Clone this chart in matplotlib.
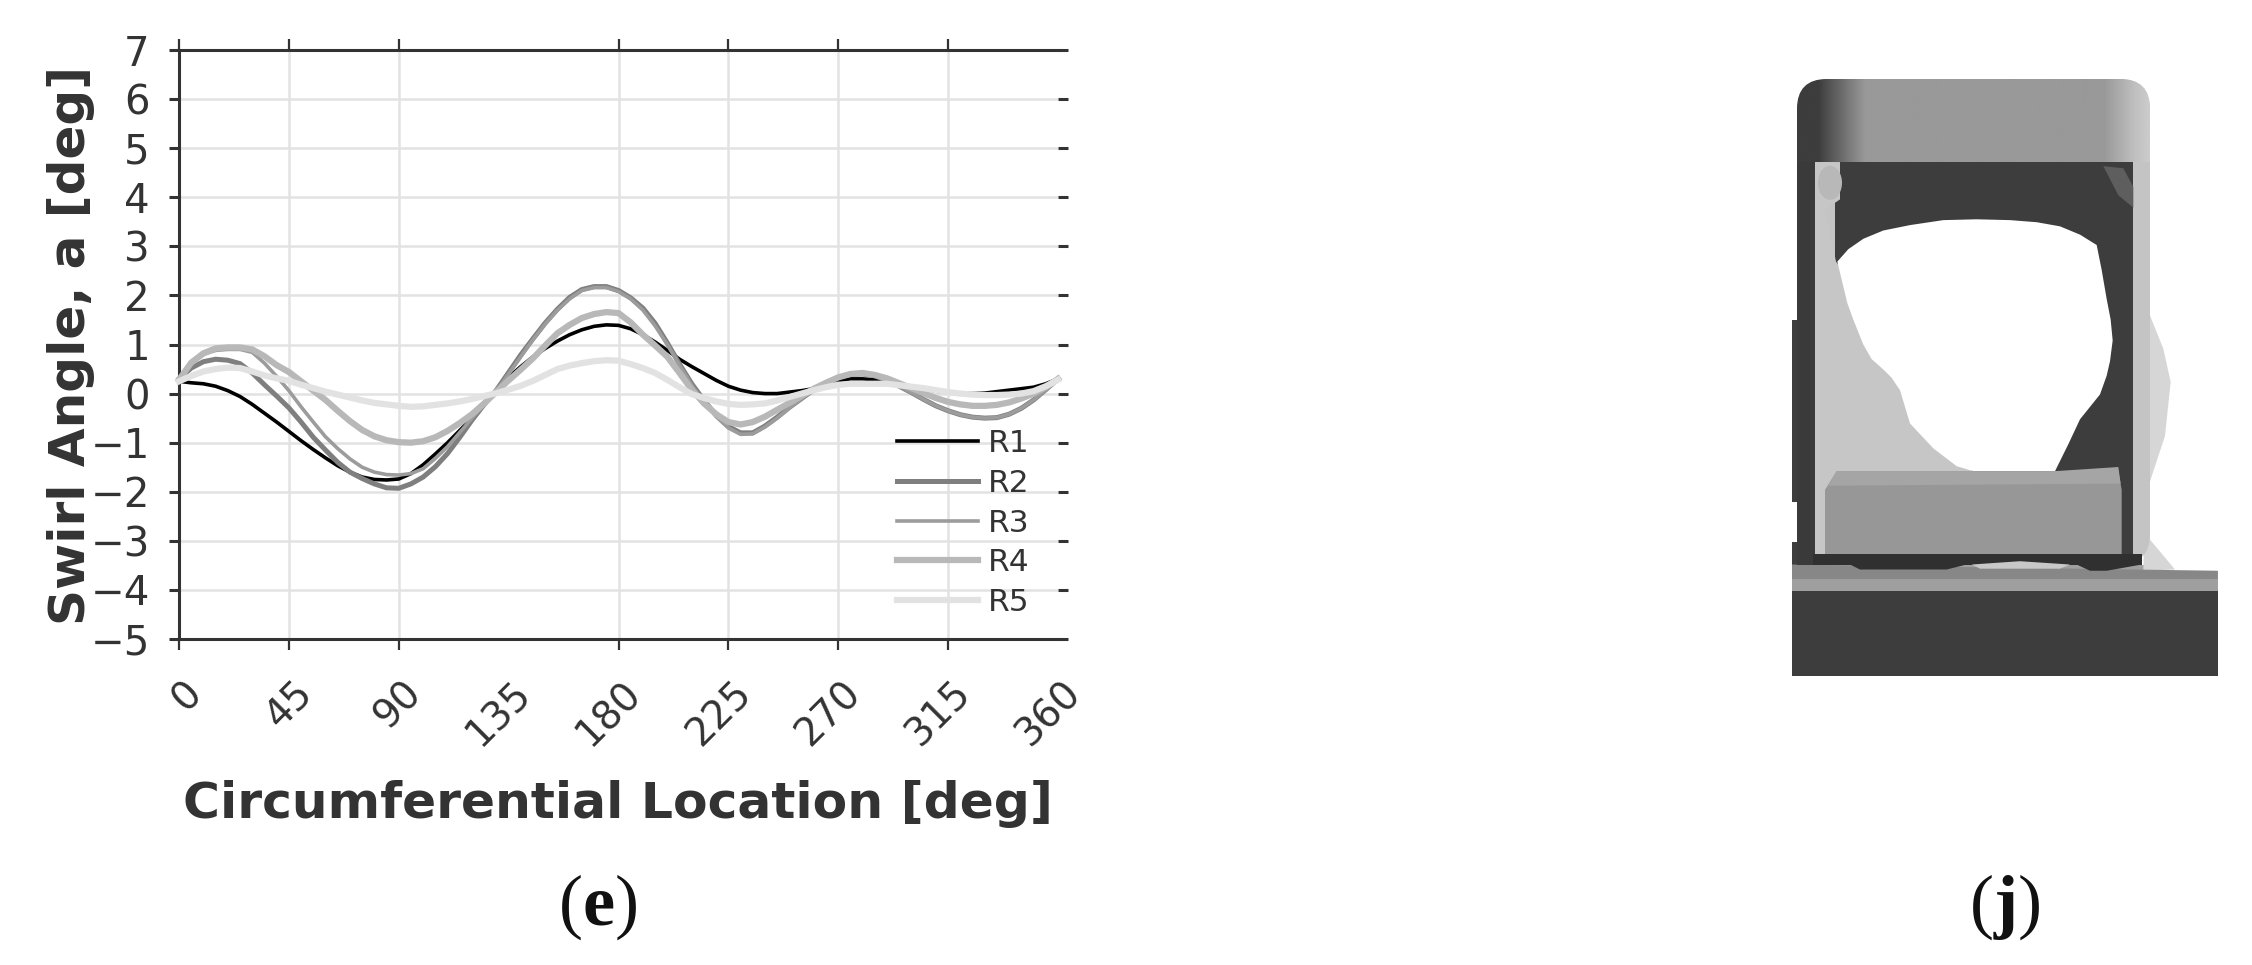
import numpy as np
import matplotlib; matplotlib.use("Agg"); import matplotlib.pyplot as plt
from matplotlib.patches import Polygon, FancyBboxPatch, Ellipse
from matplotlib.transforms import ScaledTranslation

W, H = 2252, 965

x_ticks = [0, 45, 90, 135, 180, 225, 270, 315, 360]
y_ticks = [-5, -4, -3, -2, -1, 0, 1, 2, 3, 4, 5, 6, 7]

deg = np.arange(0, 365, 5)
r1 = [0.25, 0.22, 0.2, 0.15, 0.06, -0.06, -0.22, -0.4, -0.58, -0.77, -0.96, -1.14, -1.31, -1.47, -1.6, -1.7, -1.75, -1.76, -1.74,
      -1.63, -1.45, -1.23, -1.0, -0.75, -0.5, -0.22, 0.07, 0.33, 0.55, 0.75, 0.92, 1.07, 1.2, 1.3, 1.37, 1.4, 1.39,
      1.32, 1.2, 1.05, 0.88, 0.7, 0.55, 0.41, 0.27, 0.15, 0.07, 0.02, 0.0, 0.0, 0.03, 0.06, 0.1, 0.18, 0.25,
      0.3, 0.3, 0.28, 0.24, 0.2, 0.15, 0.1, 0.05, 0.02, 0.0, 0.0, 0.01, 0.04, 0.07, 0.1, 0.13, 0.2, 0.3]
r2 = [0.3, 0.52, 0.65, 0.7, 0.68, 0.61, 0.42, 0.18, -0.05, -0.29, -0.58, -0.89, -1.15, -1.4, -1.6, -1.73, -1.84, -1.92, -1.93,
      -1.84, -1.7, -1.49, -1.22, -0.89, -0.54, -0.22, 0.07, 0.43, 0.79, 1.12, 1.44, 1.72, 1.96, 2.12, 2.18, 2.18, 2.1,
      1.95, 1.74, 1.43, 1.03, 0.6, 0.2, -0.14, -0.44, -0.67, -0.8, -0.8, -0.66, -0.48, -0.28, -0.1, 0.08, 0.22, 0.33,
      0.39, 0.4, 0.36, 0.27, 0.15, 0.02, -0.12, -0.25, -0.35, -0.43, -0.48, -0.5, -0.49, -0.42, -0.3, -0.13, 0.08, 0.3]
r3 = [0.28, 0.6, 0.8, 0.88, 0.9, 0.9, 0.84, 0.62, 0.35, 0.06, -0.27, -0.58, -0.88, -1.12, -1.33, -1.5, -1.6, -1.65, -1.66,
      -1.63, -1.53, -1.32, -1.08, -0.79, -0.5, -0.22, 0.06, 0.4, 0.75, 1.1, 1.42, 1.7, 1.93, 2.1, 2.16, 2.16, 2.08,
      1.93, 1.7, 1.38, 1.0, 0.58, 0.17, -0.17, -0.47, -0.7, -0.83, -0.82, -0.68, -0.5, -0.29, -0.1, 0.08, 0.22, 0.33,
      0.4, 0.42, 0.37, 0.27, 0.15, 0.02, -0.12, -0.25, -0.35, -0.43, -0.48, -0.5, -0.49, -0.42, -0.3, -0.13, 0.08, 0.3]
r4 = [0.28, 0.63, 0.82, 0.92, 0.94, 0.94, 0.9, 0.76, 0.58, 0.44, 0.25, 0.06, -0.13, -0.35, -0.56, -0.74, -0.87, -0.95, -0.99,
      -1.0, -0.97, -0.89, -0.76, -0.6, -0.42, -0.2, 0.04, 0.27, 0.49, 0.72, 0.98, 1.23, 1.4, 1.54, 1.62, 1.66, 1.64,
      1.45, 1.2, 0.98, 0.75, 0.42, 0.08, -0.2, -0.42, -0.58, -0.63, -0.58, -0.47, -0.33, -0.19, -0.05, 0.1, 0.22, 0.33,
      0.4, 0.42, 0.38, 0.31, 0.21, 0.11, 0.01, -0.09, -0.17, -0.22, -0.25, -0.25, -0.23, -0.18, -0.1, 0.0, 0.13, 0.3]
r5 = [0.25, 0.36, 0.45, 0.5, 0.53, 0.52, 0.45, 0.37, 0.31, 0.26, 0.18, 0.11, 0.04, -0.02, -0.08, -0.14, -0.19, -0.22, -0.25,
      -0.27, -0.26, -0.23, -0.2, -0.16, -0.11, -0.05, 0.01, 0.08, 0.16, 0.26, 0.38, 0.5, 0.57, 0.62, 0.66, 0.68, 0.67,
      0.6, 0.52, 0.42, 0.28, 0.13, -0.01, -0.09, -0.16, -0.21, -0.23, -0.22, -0.2, -0.14, -0.07, 0.0, 0.07, 0.13, 0.18,
      0.2, 0.2, 0.2, 0.2, 0.17, 0.14, 0.11, 0.07, 0.03, 0.0, -0.02, -0.03, -0.03, -0.02, 0.0, 0.05, 0.15, 0.28]

series = ["R1", "R2", "R3", "R4", "R5"]
colors = ["#000000", "#7f7f7f", "#9c9c9c", "#b8b8b8", "#e2e2e2"]
widths = [2.6, 3.6, 2.6, 4.5, 4.5]

fig = plt.figure(figsize=(W / 100, H / 100), dpi=100)

# picture on the right, drawn in pixel coordinates of the page
bg = fig.add_axes([0, 0, 1, 1], zorder=0)
bg.axis("off")

def zp(pts):
    return [(1760 + a / 3, 50 + b / 2.41) for a, b in pts]

def poly(pts, c, z=1):
    bg.add_patch(Polygon(zp(pts), closed=True, fc=c, ec="none", zorder=z))

poly([(96, 1305), (1373, 1305), (1373, 1508), (96, 1508)], "#3d3d3d")
poly([(96, 1240), (1160, 1240), (1160, 1255), (1373, 1255), (1373, 1305), (96, 1305)], "#9f9f9f")
poly([(96, 1240), (1373, 1255), (1373, 1275), (96, 1275)], "#878787", 2)
poly([(1165, 630), (1210, 720), (1232, 800), (1215, 930), (1170, 1040), (1170, 1180), (1245, 1252), (1150, 1255)], "#d6d6d6")
poly([(96, 650), (120, 650), (120, 1090), (96, 1090)], "#3d3d3d")
poly([(96, 1185), (120, 1185), (120, 1240), (96, 1240)], "#3d3d3d")
# top band with its shading
grad = np.interp(np.linspace(1797, 2150, 360), [1797, 1818, 1845, 1865, 2105, 2135, 2150],
                 [0.24, 0.24, 0.45, 0.6, 0.6, 0.75, 0.8]).reshape(1, -1)
body = FancyBboxPatch((1797 + 30, 79 + 30), 353 - 60, 485 - 60, boxstyle="round,pad=30", fc="#c4c4c4", ec="none", zorder=2)
bg.add_patch(body)
im = bg.imshow(grad, extent=(1797, 2150, 162, 79), cmap="gray", vmin=0, vmax=1, aspect="auto", zorder=3)
im.set_clip_path(body)
poly([(110, 270), (165, 270), (165, 1240), (110, 1240)], "#3a3a3a", 4)
poly([(225, 270), (1120, 270), (1120, 1215), (225, 1215)], "#3d3d3d", 4)
poly([(1030, 280), (1090, 285), (1120, 330), (1120, 380), (1075, 350)], "#5e5e5e", 5)
poly([(165, 270), (240, 270), (240, 360), (195, 385), (228, 510), (400, 700), (640, 1020), (195, 1060), (195, 1215), (165, 1215)], "#c6c6c6", 5)
poly([(232, 510), (265, 480), (310, 455), (370, 435), (450, 422), (550, 410), (650, 408), (750, 410), (830, 415), (900, 425),
      (960, 445), (1010, 470), (1025, 530), (1040, 600), (1052, 650), (1058, 700), (1050, 750), (1040, 785), (1020, 830), (990, 860),
      (960, 890), (925, 950), (885, 1015), (640, 1015), (590, 1003), (520, 960), (450, 900), (435, 860), (420, 820), (395, 790),
      (370, 770), (335, 745), (310, 710), (280, 650), (262, 610), (250, 570)], "white", 6)
poly([(195, 1060), (230, 1015), (1075, 1015), (1085, 1060), (1085, 1215), (195, 1215)], "#979797", 6)
poly([(230, 1015), (885, 1015), (1075, 1005), (1082, 1045), (205, 1050)], "#a5a5a5", 7)
poly([(160, 1215), (1145, 1215), (1145, 1240), (160, 1240)], "#303030", 8)
poly([(270, 1240), (620, 1240), (560, 1252), (300, 1252)], "#303030", 8)
poly([(950, 1240), (1145, 1240), (1040, 1255), (990, 1255)], "#303030", 8)
poly([(635, 1240), (780, 1232), (930, 1240), (900, 1250), (660, 1250)], "#c8c8c8", 9)
bg.add_patch(Ellipse((1760 + 210 / 3, 50 + 320 / 2.41), 24, 34, fc="#b8b8b8", ec="none", zorder=7))
bg.set_xlim(0, W); bg.set_ylim(H, 0)

ax = fig.add_axes([179 / W, (H - 639) / H, 879 / W, 589 / H], zorder=2)
ax.patch.set_alpha(0)
for ys, name, c, lw in zip([r1, r2, r3, r4, r5], series, colors, widths):
    ax.plot(deg, ys, color=c, lw=lw, label=name, zorder=3, clip_on=False)
ax.set_xlim(0, 360); ax.set_ylim(-5, 7)

dark = "#333333"
ax.spines["right"].set_visible(False)
for s in ["left", "top", "bottom"]:
    ax.spines[s].set_color(dark); ax.spines[s].set_linewidth(2.2)
ax.grid(True, color="#e2e2e2", lw=1.8, zorder=0)
ax.set_axisbelow(True)
ax.set_xticks(x_ticks); ax.set_yticks(y_ticks)
ax.tick_params(axis="x", top=True, direction="out", length=8, width=1.6, color=dark, pad=17)
ax.tick_params(axis="y", right=True, direction="out", length=7, width=2.2, color=dark, pad=14)
for v, t in zip(x_ticks, ax.xaxis.get_major_ticks()):
    if v in (135, 360):
        t.tick1line.set_visible(False); t.tick2line.set_visible(False)
    if v in (0, 135, 360):
        t.gridline.set_visible(False)
shift = ScaledTranslation(30 / 100, 0, fig.dpi_scale_trans)
for lab in ax.get_xticklabels():
    lab.set(rotation=45, ha="right", va="top", fontsize=28, color=dark)
    lab.set_transform(lab.get_transform() + shift)
for lab in ax.get_yticklabels():
    lab.set(fontsize=29, color=dark)

ax.set_xlabel("Circumferential Location [deg]", fontsize=36.3, fontweight="bold", color=dark)
ax.xaxis.set_label_coords(0.499, -0.24)
ax.set_ylabel("Swirl Angle, a [deg]", fontsize=36, fontweight="bold", color=dark)
ax.yaxis.set_label_coords(-0.095, 0.499)

leg = ax.legend(loc="upper left", bbox_to_anchor=(0.817, 0.3565), frameon=False, fontsize=22.5, handlelength=2.6,
                handletextpad=0.3, labelspacing=0.345, borderpad=0, borderaxespad=0)
for t in leg.get_texts():
    t.set_color(dark)

plt.rcParams["mathtext.fontset"] = "custom"
plt.rcParams["mathtext.bf"] = "Liberation Serif:bold"
fig.text(598 / W, (H - 925) / H, r"($\mathbf{e}$)", family="Liberation Serif", fontsize=52, ha="center", va="baseline", color="#111111")
fig.text(2004 / W, (H - 925) / H, r"($\mathbf{j}$)", family="Liberation Serif", fontsize=52, ha="center", va="baseline", color="#111111")

fig.savefig("out.png", dpi=100)
